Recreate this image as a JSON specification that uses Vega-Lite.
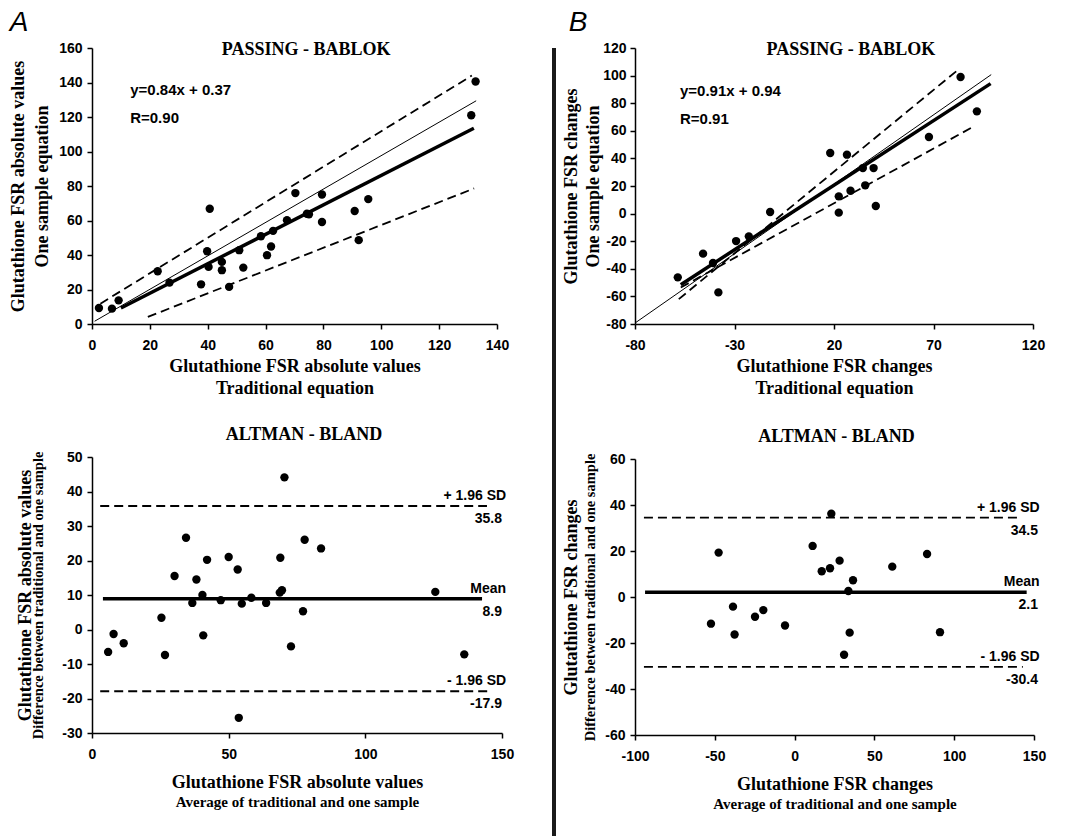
{
  "$schema": "https://vega.github.io/schema/vega-lite/v6.json",
  "background": "white",
  "padding": {"left": 9, "top": 9, "right": 5, "bottom": 0},
  "config": {
    "view": {"stroke": null},
    "font": "Liberation Sans",
    "locale": {"number": {"decimal": ".", "thousands": ",", "grouping": [3], "currency": ["$", ""], "minus": "-"}},
    "axis": {
      "labelFont": "Liberation Sans", "labelFontWeight": "bold", "labelFontSize": 14, "labelColor": "black",
      "titleFont": "Liberation Serif", "titleFontWeight": "bold", "titleFontSize": 18, "titleColor": "black",
      "domainColor": "black", "domainWidth": 1.5, "tickColor": "black", "tickWidth": 1.5, "tickSize": 5,
      "grid": false, "labelFlush": false, "labelOverlap": false
    },
    "title": {"font": "Liberation Serif", "fontSize": 18, "fontWeight": "bold", "color": "black"},
    "text": {"font": "Liberation Sans", "fontWeight": "bold", "fontSize": 14, "color": "black"}
  },
  "datasets": {
    "pbA_pts": [
      {"x": 2.4, "y": 9.3}, {"x": 6.9, "y": 8.9}, {"x": 9.2, "y": 13.7}, {"x": 22.7, "y": 30.6},
      {"x": 26.8, "y": 24.0}, {"x": 37.7, "y": 23.0}, {"x": 39.8, "y": 42.2}, {"x": 40.3, "y": 33.1},
      {"x": 40.7, "y": 66.8}, {"x": 44.9, "y": 36.0}, {"x": 44.9, "y": 31.2}, {"x": 47.4, "y": 21.5},
      {"x": 50.9, "y": 42.8}, {"x": 52.3, "y": 32.7}, {"x": 58.4, "y": 50.9}, {"x": 60.5, "y": 39.9},
      {"x": 61.9, "y": 44.9}, {"x": 62.6, "y": 54.0}, {"x": 67.4, "y": 60.2}, {"x": 70.3, "y": 75.9},
      {"x": 74.3, "y": 63.9}, {"x": 75.0, "y": 63.6}, {"x": 79.5, "y": 75.1}, {"x": 79.5, "y": 59.1},
      {"x": 90.8, "y": 65.5}, {"x": 92.2, "y": 48.6}, {"x": 95.5, "y": 72.4}, {"x": 131.1, "y": 121.0},
      {"x": 132.6, "y": 140.6}
    ],
    "pbA_lines": [
      {"seg": "identity", "x": 0.9, "y": 1.6}, {"seg": "identity", "x": 132.8, "y": 129.4},
      {"seg": "fit", "x": 10.0, "y": 9.3}, {"seg": "fit", "x": 132.0, "y": 113.5},
      {"seg": "upper", "x": 2.9, "y": 11.8}, {"seg": "upper", "x": 131.3, "y": 144.0},
      {"seg": "lower", "x": 19.3, "y": 4.1}, {"seg": "lower", "x": 132.1, "y": 78.6}
    ],
    "pbB_pts": [
      {"x": -58.5, "y": -46.2}, {"x": -45.8, "y": -29.0}, {"x": -40.8, "y": -35.8}, {"x": -38.1, "y": -57.1},
      {"x": -29.2, "y": -19.9}, {"x": -22.8, "y": -16.5}, {"x": -12.1, "y": 1.2}, {"x": 18.1, "y": 43.9},
      {"x": 22.4, "y": 12.5}, {"x": 22.4, "y": 0.7}, {"x": 26.5, "y": 42.7}, {"x": 28.3, "y": 16.6},
      {"x": 34.5, "y": 33.0}, {"x": 35.7, "y": 20.5}, {"x": 39.9, "y": 33.0}, {"x": 41.0, "y": 5.5},
      {"x": 67.7, "y": 55.5}, {"x": 83.6, "y": 99.0}, {"x": 91.8, "y": 74.1}
    ],
    "pbB_lines": [
      {"seg": "identity", "x": -80.0, "y": -79.3}, {"seg": "identity", "x": 99.0, "y": 100.7},
      {"seg": "fit", "x": -57.0, "y": -51.5}, {"seg": "fit", "x": 98.7, "y": 94.2},
      {"seg": "upper", "x": -58.0, "y": -62.0}, {"seg": "upper", "x": 81.4, "y": 103.1},
      {"seg": "lower", "x": -57.0, "y": -53.5}, {"seg": "lower", "x": 89.8, "y": 62.8}
    ],
    "baA_pts": [
      {"avg": 5.9, "diff": -6.5}, {"avg": 7.9, "diff": -1.3}, {"avg": 11.6, "diff": -4.0}, {"avg": 25.4, "diff": 3.4},
      {"avg": 26.7, "diff": -7.4}, {"avg": 30.2, "diff": 15.5}, {"avg": 34.4, "diff": 26.6}, {"avg": 36.7, "diff": 7.7},
      {"avg": 38.2, "diff": 14.5}, {"avg": 40.4, "diff": 10.0}, {"avg": 40.7, "diff": -1.7}, {"avg": 42.1, "diff": 20.2},
      {"avg": 47.1, "diff": 8.5}, {"avg": 50.0, "diff": 21.0}, {"avg": 53.3, "diff": 17.4}, {"avg": 53.7, "diff": -25.6},
      {"avg": 54.8, "diff": 7.5}, {"avg": 58.3, "diff": 9.2}, {"avg": 63.7, "diff": 7.7}, {"avg": 68.9, "diff": 20.8},
      {"avg": 68.7, "diff": 10.7}, {"avg": 69.5, "diff": 11.4}, {"avg": 70.4, "diff": 44.1}, {"avg": 72.8, "diff": -4.9},
      {"avg": 77.2, "diff": 5.3}, {"avg": 77.8, "diff": 26.0}, {"avg": 83.8, "diff": 23.5}, {"avg": 125.6, "diff": 10.9},
      {"avg": 136.2, "diff": -7.2}
    ],
    "baA_lim": [
      {"name": "+ 1.96 SD", "value": 35.8, "label": "35.8", "from": 3.0, "to": 144.5},
      {"name": "Mean", "value": 8.9, "label": "8.9", "from": 4.0, "to": 142.7},
      {"name": "- 1.96 SD", "value": -17.9, "label": "-17.9", "from": 3.0, "to": 145.2}
    ],
    "baB_pts": [
      {"avg": -52.4, "diff": -11.6}, {"avg": -47.6, "diff": 19.3}, {"avg": -38.6, "diff": -4.2}, {"avg": -37.6, "diff": -16.3},
      {"avg": -24.8, "diff": -8.6}, {"avg": -19.6, "diff": -5.7}, {"avg": -6.0, "diff": -12.4}, {"avg": 11.3, "diff": 22.2},
      {"avg": 17.0, "diff": 11.2}, {"avg": 22.2, "diff": 12.5}, {"avg": 23.0, "diff": 36.2}, {"avg": 28.2, "diff": 15.8},
      {"avg": 31.0, "diff": -25.1}, {"avg": 33.7, "diff": 2.6}, {"avg": 34.5, "diff": -15.5}, {"avg": 36.6, "diff": 7.3},
      {"avg": 61.2, "diff": 13.2}, {"avg": 83.0, "diff": 18.7}, {"avg": 91.1, "diff": -15.3}
    ],
    "baB_lim": [
      {"name": "+ 1.96 SD", "value": 34.5, "label": "34.5", "from": -94.4, "to": 141.2},
      {"name": "Mean", "value": 2.1, "label": "2.1", "from": -93.7, "to": 145.4},
      {"name": "- 1.96 SD", "value": -30.4, "label": "-30.4", "from": -94.4, "to": 143.0}
    ]
  },
  "spacing": 38,
  "hconcat": [
    {
      "title": {"text": "A", "anchor": "start", "font": "Liberation Sans", "fontStyle": "italic", "fontWeight": "normal", "fontSize": 28, "offset": 4},
      "bounds": "flush",
      "spacing": 133,
      "vconcat": [
        {
          "width": 405, "height": 276,
          "resolve": {"scale": {"x": "independent", "y": "independent"}},
          "layer": [
            {
              "encoding": {
                "x": {"field": "x", "type": "quantitative", "scale": {"domain": [0, 140], "nice": false, "zero": false},
                      "axis": {"values": [0, 20, 40, 60, 80, 100, 120, 140], "title": ["Glutathione FSR absolute values", "Traditional equation"], "labelPadding": 9, "titlePadding": 5, "titleLineHeight": 22}},
                "y": {"field": "y", "type": "quantitative", "scale": {"domain": [0, 160], "nice": false, "zero": false},
                      "axis": {"values": [0, 20, 40, 60, 80, 100, 120, 140, 160], "title": ["Glutathione FSR absolute values", "One sample equation"], "labelPadding": 5, "titlePadding": 7, "titleLineHeight": 24}}
              },
              "layer": [
                {"data": {"name": "pbA_lines"}, "transform": [{"filter": "datum.seg == 'identity'"}], "mark": {"type": "line", "color": "black", "strokeWidth": 1}},
                {"data": {"name": "pbA_lines"}, "transform": [{"filter": "datum.seg == 'fit'"}], "mark": {"type": "line", "color": "black", "strokeWidth": 3.5}},
                {"data": {"name": "pbA_lines"}, "transform": [{"filter": "datum.seg == 'upper'"}], "mark": {"type": "line", "color": "black", "strokeWidth": 1.8, "strokeDash": [9, 5]}},
                {"data": {"name": "pbA_lines"}, "transform": [{"filter": "datum.seg == 'lower'"}], "mark": {"type": "line", "color": "black", "strokeWidth": 1.8, "strokeDash": [9, 5]}},
                {"data": {"name": "pbA_pts"}, "mark": {"type": "circle", "color": "black", "opacity": 1, "size": 70}}
              ]
            },
            {
              "layer": [
                {"data": {"values": [{"t": "PASSING - BABLOK"}]}, "mark": {"type": "text", "font": "Liberation Serif", "fontSize": 18, "baseline": "alphabetic", "dy": 7},
                 "encoding": {"x": {"datum": 74, "type": "quantitative", "scale": {"domain": [0, 140], "nice": false, "zero": false}, "axis": null},
                              "y": {"datum": 160, "type": "quantitative", "scale": {"domain": [0, 160], "nice": false, "zero": false}, "axis": null},
                              "text": {"field": "t"}}},
                {"data": {"values": [{"t": "y=0.84x + 0.37"}]}, "mark": {"type": "text", "align": "left", "baseline": "middle", "fontSize": 15},
                 "encoding": {"x": {"datum": 13.2, "type": "quantitative", "scale": {"domain": [0, 140], "nice": false, "zero": false}, "axis": null},
                              "y": {"datum": 135.4, "type": "quantitative", "scale": {"domain": [0, 160], "nice": false, "zero": false}, "axis": null},
                              "text": {"field": "t"}}},
                {"data": {"values": [{"t": "R=0.90"}]}, "mark": {"type": "text", "align": "left", "baseline": "middle", "fontSize": 15},
                 "encoding": {"x": {"datum": 13.2, "type": "quantitative", "scale": {"domain": [0, 140], "nice": false, "zero": false}, "axis": null},
                              "y": {"datum": 119.7, "type": "quantitative", "scale": {"domain": [0, 160], "nice": false, "zero": false}, "axis": null},
                              "text": {"field": "t"}}}
              ]
            }
          ]
        },
        {
          "width": 410, "height": 276,
          "title": {"text": "ALTMAN - BLAND", "frame": "group", "anchor": "middle", "offset": 6, "dx": 7},
          "resolve": {"scale": {"x": "independent", "y": "independent"}},
          "layer": [
            {"data": {"name": "baA_pts"}, "mark": {"type": "circle", "color": "black", "opacity": 1, "size": 70},
             "encoding": {
               "x": {"field": "avg", "type": "quantitative", "scale": {"domain": [0, 150], "nice": false, "zero": false},
                     "axis": {"orient": "bottom", "values": [0, 50, 100, 150], "title": "Glutathione FSR absolute values", "labelPadding": 9, "titlePadding": 12}},
               "y": {"field": "diff", "type": "quantitative", "scale": {"domain": [-30, 50], "nice": false, "zero": false},
                     "axis": {"orient": "left", "values": [-30, -20, -10, 0, 10, 20, 30, 40, 50], "title": "Glutathione FSR absolute values", "labelPadding": 5, "titlePadding": 27}}
             }},
            {"data": {"name": "baA_lim"},
             "encoding": {
               "y": {"field": "value", "type": "quantitative", "scale": {"domain": [-30, 50], "nice": false, "zero": false},
                     "axis": {"orient": "left", "title": "Difference between traditional and one sample", "labels": false, "ticks": false, "domain": false, "titleFontSize": 14.5, "titlePadding": 47}}
             },
             "layer": [
               {"transform": [{"filter": "datum.name != 'Mean'"}], "mark": {"type": "rule", "color": "black", "strokeWidth": 1.8, "strokeDash": [9, 5]},
                "encoding": {
                  "x": {"field": "from", "type": "quantitative", "scale": {"domain": [0, 150], "nice": false, "zero": false},
                        "axis": {"orient": "bottom", "title": "Average of traditional and one sample", "labels": false, "ticks": false, "domain": false, "titleFontSize": 15, "titlePadding": 61}},
                  "x2": {"field": "to"}
                }},
               {"transform": [{"filter": "datum.name == 'Mean'"}], "mark": {"type": "rule", "color": "black", "strokeWidth": 3.5},
                "encoding": {
                  "x": {"field": "from", "type": "quantitative", "scale": {"domain": [0, 150], "nice": false, "zero": false},
                        "axis": {"orient": "bottom", "title": "Average of traditional and one sample", "labels": false, "ticks": false, "domain": false, "titleFontSize": 15, "titlePadding": 61}},
                  "x2": {"field": "to"}
                }},
               {"mark": {"type": "text", "align": "right", "baseline": "middle", "dy": -10},
                "encoding": {"x": {"datum": 151.5}, "text": {"field": "name"}}},
               {"mark": {"type": "text", "align": "right", "baseline": "middle", "dy": 13},
                "encoding": {"x": {"datum": 150}, "text": {"field": "label"}}}
             ]}
          ]
        }
      ]
    },
    {
      "spacing": 6,
      "hconcat": [
        {
          "width": 4, "height": 826,
          "data": {"values": [{"d": 1}]},
          "mark": {"type": "rule", "strokeWidth": 4, "color": "#1a1a1a"},
          "encoding": {"x": {"datum": 0.5, "type": "quantitative", "scale": {"domain": [0, 1]}, "axis": null}}
        },
        {
          "title": {"text": "B", "anchor": "start", "font": "Liberation Sans", "fontStyle": "italic", "fontWeight": "normal", "fontSize": 28, "offset": 4, "dx": 6},
          "bounds": "flush",
          "spacing": 135,
          "vconcat": [
            {
              "width": 398, "height": 276,
              "resolve": {"scale": {"x": "independent", "y": "independent"}},
              "layer": [
                {
                  "encoding": {
                    "x": {"field": "x", "type": "quantitative", "scale": {"domain": [-80, 120], "nice": false, "zero": false},
                          "axis": {"values": [-80, -30, 20, 70, 120], "title": ["Glutathione FSR changes", "Traditional equation"], "labelPadding": 9, "titlePadding": 5, "titleLineHeight": 22}},
                    "y": {"field": "y", "type": "quantitative", "scale": {"domain": [-80, 120], "nice": false, "zero": false},
                          "axis": {"values": [-80, -60, -40, -20, 0, 20, 40, 60, 80, 100, 120], "title": ["Glutathione FSR changes", "One sample equation"], "labelPadding": 4, "titlePadding": 0, "titleLineHeight": 22}}
                  },
                  "layer": [
                    {"data": {"name": "pbB_lines"}, "transform": [{"filter": "datum.seg == 'identity'"}], "mark": {"type": "line", "color": "black", "strokeWidth": 1}},
                    {"data": {"name": "pbB_lines"}, "transform": [{"filter": "datum.seg == 'fit'"}], "mark": {"type": "line", "color": "black", "strokeWidth": 3.5}},
                    {"data": {"name": "pbB_lines"}, "transform": [{"filter": "datum.seg == 'upper'"}], "mark": {"type": "line", "color": "black", "strokeWidth": 1.8, "strokeDash": [9, 5]}},
                    {"data": {"name": "pbB_lines"}, "transform": [{"filter": "datum.seg == 'lower'"}], "mark": {"type": "line", "color": "black", "strokeWidth": 1.8, "strokeDash": [9, 5]}},
                    {"data": {"name": "pbB_pts"}, "mark": {"type": "circle", "color": "black", "opacity": 1, "size": 70}}
                  ]
                },
                {
                  "layer": [
                    {"data": {"values": [{"t": "PASSING - BABLOK"}]}, "mark": {"type": "text", "font": "Liberation Serif", "fontSize": 18, "baseline": "alphabetic", "dy": 7},
                     "encoding": {"x": {"datum": 28.5, "type": "quantitative", "scale": {"domain": [-80, 120], "nice": false, "zero": false}, "axis": null},
                                  "y": {"datum": 120, "type": "quantitative", "scale": {"domain": [-80, 120], "nice": false, "zero": false}, "axis": null},
                                  "text": {"field": "t"}}},
                    {"data": {"values": [{"t": "y=0.91x + 0.94"}]}, "mark": {"type": "text", "align": "left", "baseline": "middle", "fontSize": 15},
                     "encoding": {"x": {"datum": -57.4, "type": "quantitative", "scale": {"domain": [-80, 120], "nice": false, "zero": false}, "axis": null},
                                  "y": {"datum": 88.6, "type": "quantitative", "scale": {"domain": [-80, 120], "nice": false, "zero": false}, "axis": null},
                                  "text": {"field": "t"}}},
                    {"data": {"values": [{"t": "R=0.91"}]}, "mark": {"type": "text", "align": "left", "baseline": "middle", "fontSize": 15},
                     "encoding": {"x": {"datum": -57.4, "type": "quantitative", "scale": {"domain": [-80, 120], "nice": false, "zero": false}, "axis": null},
                                  "y": {"datum": 68.8, "type": "quantitative", "scale": {"domain": [-80, 120], "nice": false, "zero": false}, "axis": null},
                                  "text": {"field": "t"}}}
                  ]
                }
              ]
            },
            {
              "width": 399, "height": 276,
              "title": {"text": "ALTMAN - BLAND", "frame": "group", "anchor": "middle", "offset": 6, "dx": 2},
              "resolve": {"scale": {"x": "independent", "y": "independent"}},
              "layer": [
                {"data": {"name": "baB_pts"}, "mark": {"type": "circle", "color": "black", "opacity": 1, "size": 70},
                 "encoding": {
                   "x": {"field": "avg", "type": "quantitative", "scale": {"domain": [-100, 150], "nice": false, "zero": false},
                         "axis": {"orient": "bottom", "values": [-100, -50, 0, 50, 100, 150], "title": "Glutathione FSR changes", "labelPadding": 9, "titlePadding": 12}},
                   "y": {"field": "diff", "type": "quantitative", "scale": {"domain": [-60, 60], "nice": false, "zero": false},
                         "axis": {"orient": "left", "values": [-60, -40, -20, 0, 20, 40, 60], "title": "Glutathione FSR changes", "labelPadding": 5, "titlePadding": 24}}
                 }},
                {"data": {"name": "baB_lim"},
                 "encoding": {
                   "y": {"field": "value", "type": "quantitative", "scale": {"domain": [-60, 60], "nice": false, "zero": false},
                         "axis": {"orient": "left", "title": "Difference between traditional and one sample", "labels": false, "ticks": false, "domain": false, "titleFontSize": 14.5, "titlePadding": 38}}
                 },
                 "layer": [
                   {"transform": [{"filter": "datum.name != 'Mean'"}], "mark": {"type": "rule", "color": "black", "strokeWidth": 1.8, "strokeDash": [9, 5]},
                    "encoding": {
                      "x": {"field": "from", "type": "quantitative", "scale": {"domain": [-100, 150], "nice": false, "zero": false},
                            "axis": {"orient": "bottom", "title": "Average of traditional and one sample", "labels": false, "ticks": false, "domain": false, "titleFontSize": 15, "titlePadding": 61}},
                      "x2": {"field": "to"}
                    }},
                   {"transform": [{"filter": "datum.name == 'Mean'"}], "mark": {"type": "rule", "color": "black", "strokeWidth": 3.5},
                    "encoding": {
                      "x": {"field": "from", "type": "quantitative", "scale": {"domain": [-100, 150], "nice": false, "zero": false},
                            "axis": {"orient": "bottom", "title": "Average of traditional and one sample", "labels": false, "ticks": false, "domain": false, "titleFontSize": 15, "titlePadding": 61}},
                      "x2": {"field": "to"}
                    }},
                   {"mark": {"type": "text", "align": "right", "baseline": "middle", "dy": -10},
                    "encoding": {"x": {"datum": 153.5}, "text": {"field": "name"}}},
                   {"mark": {"type": "text", "align": "right", "baseline": "middle", "dy": 13},
                    "encoding": {"x": {"datum": 152.5}, "text": {"field": "label"}}}
                 ]}
              ]
            }
          ]
        }
      ]
    }
  ]
}
